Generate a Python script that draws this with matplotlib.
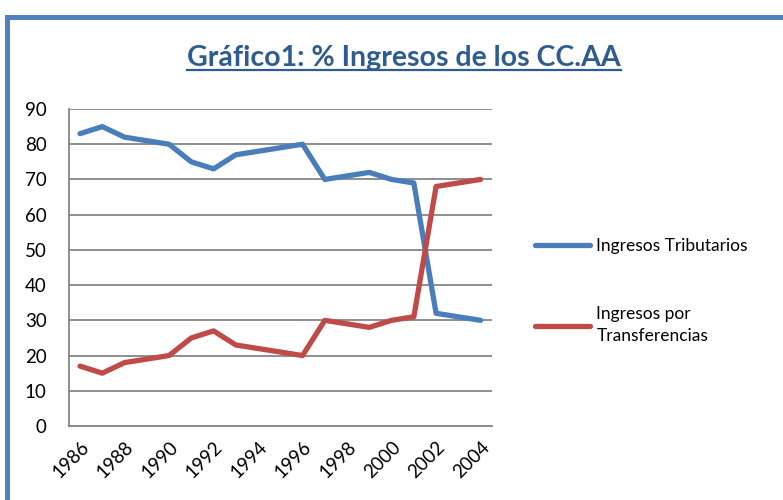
import matplotlib.pyplot as plt
from matplotlib.patches import Rectangle

years = list(range(1986, 2005))
tributarios = [83, 85, 82, 81, 80, 75, 73, 77, 78, 79, 80, 70, 71, 72, 70, 69, 32, 31, 30]
transferencias = [17, 15, 18, 19, 20, 25, 27, 23, 22, 21, 20, 30, 29, 28, 30, 31, 68, 69, 70]
tick_years = years[::2]

plt.rcParams['font.family'] = ['Lato', 'DejaVu Sans']

fig = plt.figure(figsize=(7.83, 5), dpi=100)
ax = fig.add_axes([0.088, 0.148, 0.540, 0.634])

x = list(range(len(years)))
ax.plot(x, tributarios, color="#4A7EBB", lw=3.8, solid_capstyle="round", label="Ingresos Tributarios")
ax.plot(x, transferencias, color="#BE4B48", lw=3.8, solid_capstyle="round", label="Ingresos por\nTransferencias")

ax.set_xlim(-0.5, len(years) - 0.5)
ax.set_ylim(0, 90)
ax.set_yticks(range(0, 91, 10))
ax.set_xticks(x[::2])
ax.set_xticklabels([str(y) for y in tick_years], rotation=45, ha="right", rotation_mode="anchor")
ax.tick_params(length=0, labelsize=13.5)
ax.tick_params(axis="y", pad=16)
ax.tick_params(axis="x", pad=9)

ax.grid(axis="y", color="#868686", lw=1.3)
ax.set_axisbelow(True)
for s in ["top", "right"]:
    ax.spines[s].set_visible(False)
for s in ["left", "bottom"]:
    ax.spines[s].set_color("#868686")
    ax.spines[s].set_linewidth(1.3)

leg = ax.legend(loc="center left", bbox_to_anchor=(1.065, 0.425), frameon=False,
                fontsize=12.5, handlelength=3.2, handletextpad=0.35, labelspacing=3.0)
for t in leg.get_texts():
    t.set_linespacing(1.45)

# title (underlined)
title = fig.text(0.516, 0.884, "Gráfico1: % Ingresos de los CC.AA", ha="center", va="center",
                 fontsize=20.5, fontweight="bold", color="#2F5C8F")
fig.canvas.draw()
bb = title.get_window_extent().transformed(fig.transFigure.inverted())
fig.add_artist(plt.Line2D([bb.x0, bb.x1], [bb.y0 + 0.002, bb.y0 + 0.002], color="#2F5C8F", lw=1.6))

# blue frame around chart
fig.add_artist(Rectangle((6.5 / 783, -0.1), 1.2, 1 - 16.5 / 500 + 0.1, transform=fig.transFigure,
                         fill=False, edgecolor="#4F81BD", lw=3.6))

fig.savefig("out.png", dpi=100)
